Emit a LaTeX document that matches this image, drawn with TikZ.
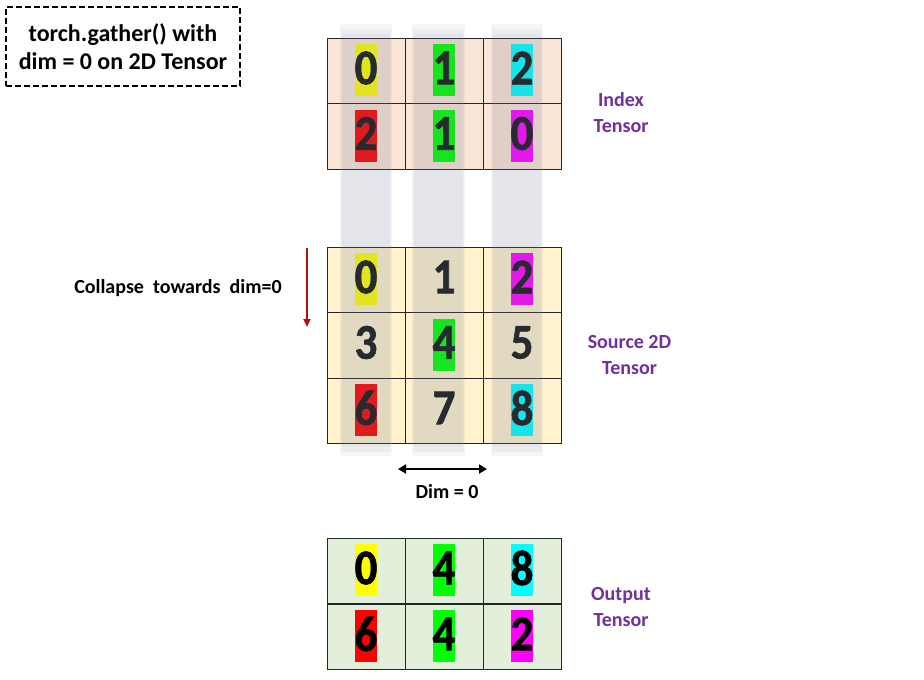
\documentclass[tikz,border=0pt]{standalone}
\usepackage{fontspec}
\setmainfont{Carlito}
\newfontfamily\digitfont[FakeStretch=0.9,FakeBold=1.2]{Carlito}
\usetikzlibrary{arrows.meta}
\definecolor{idxfill}{HTML}{FBE5D6}
\definecolor{srcfill}{HTML}{FFF2CC}
\definecolor{outfill}{HTML}{E2EFDA}
\definecolor{purp}{HTML}{7030A0}
\definecolor{bandcol}{RGB}{120,130,155}
\definecolor{darkred}{HTML}{B01010}
\definecolor{hlY}{RGB}{255,255,0}
\definecolor{hlG}{RGB}{0,255,0}
\definecolor{hlC}{RGB}{0,255,255}
\definecolor{hlR}{RGB}{255,0,0}
\definecolor{hlM}{RGB}{255,0,255}
\begin{document}
\begin{tikzpicture}[x=1pt,y=-1pt,
  cell/.style={draw=black!85, line width=0.9pt, minimum width=78pt, minimum height=65.5pt, inner sep=0pt},
  hl/.style={minimum width=22pt, minimum height=52pt, inner sep=0pt},
  digit/.style={font=\fontsize{50}{50}\digitfont\bfseries, inner sep=0pt, text=black!92},
  lbl/.style={font=\fontsize{20}{26}\selectfont\bfseries, text=purp, align=center},
  plain/.style={font=\fontsize{20}{24}\selectfont\bfseries, text=black},
  bandpiece/.style={fill=bandcol, opacity=0.075}
]
\useasboundingbox (0,0) rectangle (924,680);

% ---------- Index tensor ----------
\foreach \c/\x in {1/366,2/444,3/522}
  \foreach \r/\y in {1/71,2/136.5}
    \node[cell, fill=idxfill] (i\r\c) at (\x,\y) {};
\foreach \r/\c/\col/\d in {1/1/hlY/0,1/2/hlG/1,1/3/hlC/2,2/1/hlR/2,2/2/hlG/1,2/3/hlM/0}{
  \node[hl, fill=\col] (ih\r\c) at ([yshift=1pt]i\r\c.center) {};
  \node[digit] (id\r\c) at ([yshift=3pt]i\r\c.center) {\d};
}

% ---------- Source tensor ----------
\foreach \c/\x in {1/366,2/444,3/522}
  \foreach \r/\y in {1/280,2/345.5,3/411}
    \node[cell, fill=srcfill] (s\r\c) at (\x,\y) {};
\foreach \r/\c/\col in {1/1/hlY,1/3/hlM,2/2/hlG,3/1/hlR,3/3/hlC}
  \node[hl, fill=\col] (sh\r\c) at ([yshift=1pt]s\r\c.center) {};
\foreach \r/\c/\d in {1/1/0,1/2/1,1/3/2,2/1/3,2/2/4,2/3/5,3/1/6,3/2/7,3/3/8}
  \node[digit] (sd\r\c) at ([yshift=3pt]s\r\c.center) {\d};

% ---------- Output tensor ----------
\foreach \c/\x in {1/366,2/444,3/522}
  \foreach \r/\y in {1/571,2/637}
    \node[cell, fill=outfill] (o\r\c) at (\x,\y) {};
\foreach \r/\c/\col/\d in {1/1/hlY/0,1/2/hlG/4,1/3/hlC/8,2/1/hlR/6,2/2/hlG/4,2/3/hlM/2}{
  \node[hl, fill=\col] (oh\r\c) at ([yshift=1pt]o\r\c.center) {};
  \node[digit, text=black] (od\r\c) at ([yshift=3pt]o\r\c.center) {\d};
}

% ---------- translucent column bands ----------
\foreach \xa/\xb in {341/391,413/464,492/542}{
  \fill[bandpiece] (\xa-1,24) rectangle (\xb+1,456);
  \fill[bandpiece] (\xa,29) rectangle (\xb,452);
  \fill[bandpiece] (\xa+1,34) rectangle (\xb-1,447);
}

% ---------- title ----------
\node[draw, dashed, dash pattern=on 6pt off 3pt, line width=1.3pt,
      minimum width=234pt, minimum height=79pt, align=center,
      font=\fontsize{24}{28}\selectfont\bfseries] (title) at (123,46.5)
      {torch.gather() with\\dim = 0 on 2D Tensor};

% ---------- labels ----------
\node[lbl] (lidx) at (621,113) {Index\\Tensor};
\node[lbl] (lsrc) at (629.5,355.5) {Source 2D\\Tensor};
\node[lbl] (lout) at (621,607) {Output\\Tensor};

\node[plain] (coll) at (178,288) {Collapse\ \ towards\ \ dim=0};
\node[plain] (dimlbl) at (447,492) {Dim = 0};

% ---------- arrows ----------
\coordinate (ra1) at (307,248);
\coordinate (ra2) at (307,327);
\draw[darkred, line width=2pt, -{Triangle[length=8pt,width=7pt]}] (ra1) -- (ra2);

\coordinate (da1) at (398,469);
\coordinate (da2) at (487,469);
\draw[line width=2.5pt, {Triangle[length=8pt,width=9pt]}-{Triangle[length=8pt,width=9pt]}] (da1) -- (da2);
\end{tikzpicture}
\end{document}
